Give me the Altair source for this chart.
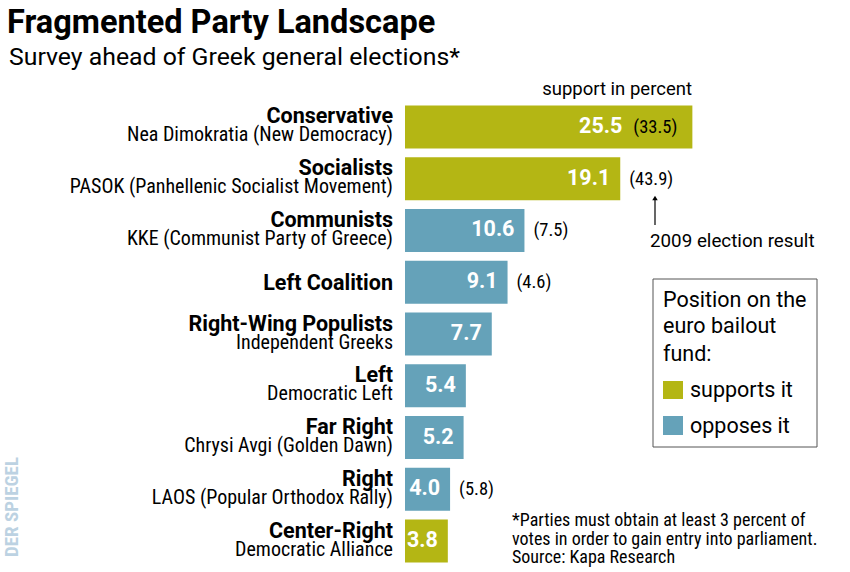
import altair as alt
import pandas as pd

FW = "Roboto, sans-serif"
FC = "Roboto Condensed, Roboto, sans-serif"
GREEN = "#b4b614"
BLUE = "#65a2b9"

parties = ["Conservative", "Socialists", "Communists", "Left Coalition",
           "Right-Wing Populists", "Left", "Far Right", "Right", "Center-Right"]
details = ["Nea Dimokratia (New Democracy)", "PASOK (Panhellenic Socialist Movement)",
           "KKE (Communist Party of Greece)", "", "Independent Greeks",
           "Democratic Left", "Chrysi Avgi (Golden Dawn)", "LAOS (Popular Orthodox Rally)",
           "Democratic Alliance"]
support = [25.5, 19.1, 10.6, 9.1, 7.7, 5.4, 5.2, 4.0, 3.8]
prev_2009 = ["(33.5)", "(43.9)", "(7.5)", "(4.6)", "", "", "", "(5.8)", ""]
position = ["supports it", "supports it", "opposes it", "opposes it", "opposes it",
            "opposes it", "opposes it", "opposes it", "supports it"]

df = pd.DataFrame({
    "party": parties,
    "detail": details,
    "support": support,
    "prev": prev_2009,
    "position": position,
    "rank": list(range(len(parties))),
})
df["label"] = df["support"].map(lambda v: f"{v:.1f}")

W, H = 435, 466

y = alt.Y("party:N", sort=parties, axis=None,
          scale=alt.Scale(paddingInner=0.17, paddingOuter=0.085))
x = alt.X("support:Q", axis=None, scale=alt.Scale(domain=[0, 38.6]))

base = alt.Chart(df).encode(y=y)

bars = base.mark_bar().encode(
    x=x,
    color=alt.Color("position:N", legend=None,
                    scale=alt.Scale(domain=["supports it", "opposes it"], range=[GREEN, BLUE])),
)

val_first = base.transform_filter("datum.rank == 0").mark_text(
    align="right", baseline="middle", dx=-70, font=FW, fontWeight="bold",
    fontSize=21.5, color="white").encode(x=x, text="label:N")
val_rest = base.transform_filter("datum.rank > 0").mark_text(
    align="right", baseline="middle", dx=-10, font=FW, fontWeight="bold",
    fontSize=21.5, color="white").encode(x=x, text="label:N")

prev_first = base.transform_filter("datum.rank == 0").mark_text(
    align="left", baseline="middle", dx=-59, font=FC, fontSize=18.5,
    color="black").encode(x=x, text="prev:N")
prev_rest = base.transform_filter("datum.rank > 0 && datum.prev != ''").mark_text(
    align="left", baseline="middle", dx=9, font=FC, fontSize=18.5,
    color="black").encode(x=x, text="prev:N")

names_two = base.transform_filter("datum.detail != ''").mark_text(
    align="right", baseline="alphabetic", dy=-3.5, font=FW, fontWeight="bold",
    fontSize=21.5, color="black").encode(x=alt.value(-12), text="party:N")
names_one = base.transform_filter("datum.detail == ''").mark_text(
    align="right", baseline="alphabetic", dy=8, font=FW, fontWeight="bold",
    fontSize=21.5, color="black").encode(x=alt.value(-12), text="party:N")
detail_txt = base.transform_filter("datum.detail != ''").mark_text(
    align="right", baseline="alphabetic", dy=14.5, font=FC, fontSize=20,
    color="black").encode(x=alt.value(-12), text="detail:N")


def txt(t, px, py, size, weight="normal", align="left", color="black", angle=0, font=FW):
    kw = dict(align=align, baseline="alphabetic", font=font, fontSize=size,
              fontWeight=weight, color=color)
    if angle:
        kw["angle"] = angle
        kw["baseline"] = "middle"
        kw["align"] = "center"
    return alt.Chart(pd.DataFrame({"t": [t]})).mark_text(**kw).encode(
        x=alt.value(px), y=alt.value(py), text="t:N")


title = txt("Fragmented Party Landscape", -398, -68, 32.5, "bold")
subtitle = txt("Survey ahead of Greek general elections*", -396, -36, 24.8)
unit = txt("support in percent", 287, -6, 18.5, align="right")
elect = txt("2009 election result", 245, 146, 18.8)

arrow_line = alt.Chart(pd.DataFrame({"a": [0]})).mark_rule(color="black", strokeWidth=1.2).encode(
    x=alt.value(250), y=alt.value(98), y2=alt.value(124))
arrow_head = alt.Chart(pd.DataFrame({"a": [0]})).mark_point(
    shape="triangle-up", filled=True, color="black", size=30, opacity=1).encode(
    x=alt.value(250), y=alt.value(97))

legend_box = alt.Chart(pd.DataFrame({"a": [0]})).mark_rect(
    fill="white", stroke="#555555", strokeWidth=1).encode(
    x=alt.value(248), x2=alt.value(412), y=alt.value(178), y2=alt.value(346))
leg1 = txt("Position on the", 258, 206, 21.5)
leg2 = txt("euro bailout", 258, 232, 21.5)
leg3 = txt("fund:", 258, 260, 21.5)
leg_sup = txt("supports it", 285, 296, 21.5)
leg_opp = txt("opposes it", 285, 332, 21.5)
sq_sup = alt.Chart(pd.DataFrame({"a": [0]})).mark_rect(color=GREEN).encode(
    x=alt.value(258), x2=alt.value(278), y=alt.value(280), y2=alt.value(298))
sq_opp = alt.Chart(pd.DataFrame({"a": [0]})).mark_rect(color=BLUE).encode(
    x=alt.value(258), x2=alt.value(278), y=alt.value(315), y2=alt.value(334))

foot1 = txt("*Parties must obtain at least 3 percent of", 107, 425, 18, font=FC)
foot2 = txt("votes in order to gain entry into parliament.", 107, 444, 18, font=FC)
foot3 = txt("Source: Kapa Research", 107, 462, 18, font=FC)

spiegel = txt("DER SPIEGEL", -393, 406, 19, "bold", color="#bcd2e2", angle=270, font=FC)

chart = alt.layer(
    bars, val_first, val_rest, prev_first, prev_rest, names_two, names_one, detail_txt,
    title, subtitle, unit, elect, arrow_line, arrow_head,
    legend_box, leg1, leg2, leg3, leg_sup, leg_opp, sq_sup, sq_opp,
    foot1, foot2, foot3, spiegel,
).properties(
    width=W, height=H,
    autosize=alt.AutoSizeParams(type="none"),
    padding={"left": 405, "top": 101, "right": 10, "bottom": 5},
    background="white",
).configure_view(stroke=None)

chart.save("out.html", embed_options={"renderer": "svg", "actions": False})
